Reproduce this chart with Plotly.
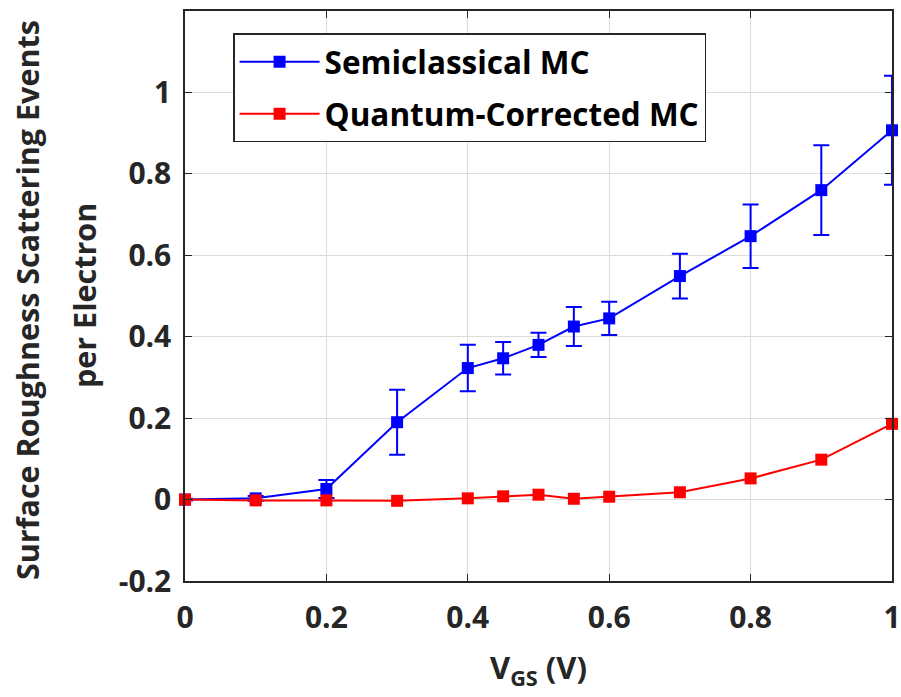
import plotly.graph_objects as go

vgs = [0, 0.1, 0.2, 0.3, 0.4, 0.45, 0.5, 0.55, 0.6, 0.7, 0.8, 0.9, 1.0]
semi_y = [0.0, 0.003, 0.026, 0.19, 0.323, 0.347, 0.380, 0.425, 0.445, 0.549, 0.647, 0.760, 0.907]
semi_err = [0.002, 0.006, 0.022, 0.08, 0.057, 0.04, 0.03, 0.048, 0.041, 0.055, 0.078, 0.11, 0.134]
qc_y = [0.0, -0.002, -0.002, -0.003, 0.003, 0.008, 0.012, 0.002, 0.007, 0.018, 0.052, 0.098, 0.186]
qc_err = [0.002, 0.002, 0.002, 0.002, 0.002, 0.003, 0.003, 0.003, 0.003, 0.003, 0.004, 0.005, 0.006]

x_ticks = [0, 0.2, 0.4, 0.6, 0.8, 1.0]
x_labels = ["0", "0.2", "0.4", "0.6", "0.8", "1"]
y_ticks = [-0.2, 0, 0.2, 0.4, 0.6, 0.8, 1.0]
y_labels = ["-0.2", "0", "0.2", "0.4", "0.6", "0.8", "1"]

FONT = "Open Sans"
DARK = "#262626"

fig = go.Figure()
fig.add_trace(go.Scatter(
    x=vgs, y=semi_y, name="<b>Semiclassical MC</b>", mode="lines+markers",
    line=dict(color="#0000ff", width=2),
    marker=dict(symbol="square", size=12, color="#0000ff"),
    error_y=dict(type="data", array=semi_err, visible=True, color="#0000ff", thickness=2, width=8),
    cliponaxis=False, legendgroup="a",
))
fig.add_trace(go.Scatter(
    x=vgs, y=qc_y, name="<b>Quantum-Corrected MC</b>", mode="lines+markers",
    line=dict(color="#ff0000", width=2),
    marker=dict(symbol="square", size=12, color="#ff0000"),
    error_y=dict(type="data", array=qc_err, visible=True, color="#ff0000", thickness=2, width=0),
    cliponaxis=False, legendgroup="b",
))

axis_common = dict(
    showline=True, linecolor=DARK, linewidth=1.5, mirror="ticks",
    ticks="inside", ticklen=7, tickwidth=1, tickcolor=DARK,
    showgrid=True, gridcolor="#dcdcdc", gridwidth=1, zeroline=False,
    automargin=False,
    tickfont=dict(family=FONT, size=30, color=DARK, weight="bold"),
)

fig.update_xaxes(range=[0, 1], tickvals=x_ticks, ticktext=x_labels,
                 ticklabelstandoff=9,
                 title=dict(text="<b>V<sub>GS</sub> (V)</b>", standoff=22,
                            font=dict(family=FONT, size=31, color=DARK)),
                 **axis_common)
fig.update_yaxes(range=[-0.2, 1.2], tickvals=y_ticks, ticktext=y_labels,
                 ticklabelstandoff=6, **axis_common)

fig.add_annotation(text="<b>Surface Roughness Scattering Events</b>", textangle=-90,
                   xref="paper", yref="paper", x=(27 - 185) / 707, y=0.493,
                   xanchor="center", yanchor="middle", showarrow=False,
                   font=dict(family=FONT, size=30.5, color=DARK))
fig.add_annotation(text="<b>per Electron</b>", textangle=-90,
                   xref="paper", yref="paper", x=(84 - 185) / 707, y=0.5,
                   xanchor="center", yanchor="middle", showarrow=False,
                   font=dict(family=FONT, size=30.5, color=DARK))

fig.update_layout(
    width=901, height=697,
    margin=dict(l=185, r=9, t=11, b=116, autoexpand=False),
    paper_bgcolor="white", plot_bgcolor="white",
    font=dict(family=FONT, color=DARK),
    showlegend=True,
    legend=dict(x=0.068, y=0.961, xanchor="left", yanchor="top",
                bgcolor="white", bordercolor=DARK, borderwidth=1.5,
                font=dict(family=FONT, size=31.5, color="black"),
                itemwidth=80, tracegroupgap=8),
)

fig.write_html("out.html", config={"displayModeBar": False},
               post_script="document.body.style.margin='0px';document.body.style.overflow='hidden';")
